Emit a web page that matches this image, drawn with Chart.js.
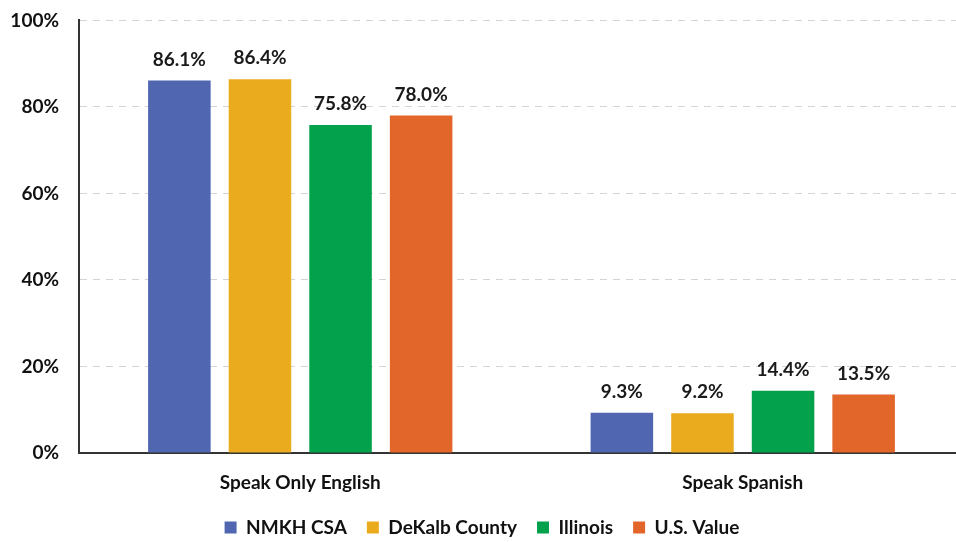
<!DOCTYPE html>
<html>
<head>
<meta charset="utf-8">
<script src="https://cdn.jsdelivr.net/npm/chart.js@4.4.1/dist/chart.umd.min.js"></script>
<style>
  html, body { margin: 0; padding: 0; background: #fff; overflow: hidden; }
  #wrap { position: absolute; left: 0; top: 0; width: 964px; height: 542px; }
</style>
</head>
<body>
<div id="wrap"><canvas id="myChart"></canvas></div>
<script>
const categories = ['Speak Only English', 'Speak Spanish']
const nmkh = [86.1, 9.3]
const dekalb = [86.4, 9.2]
const illinois = [75.8, 14.4]
const usValue = [78.0, 13.5]
const yTicks = [0, 20, 40, 60, 80, 100]

const FONT = 'Lato, Calibri, "Open Sans", sans-serif'

// value labels above each bar
const barLabels = {
  id: 'barLabels',
  afterDatasetsDraw: chart => {
    let ctx = chart.ctx
    ctx.save()
    ctx.font = 'bold 19px ' + FONT
    ctx.fillStyle = '#1a1a1a'
    ctx.textAlign = 'center'
    ctx.textBaseline = 'alphabetic'
    chart.data.datasets.forEach((ds, i) => {
      chart.getDatasetMeta(i).data.forEach((bar, j) => {
        ctx.fillText(ds.data[j].toFixed(1) + '%', bar.x, bar.y - 15)
      })
    })
    ctx.restore()
  }
}

new Chart('myChart', {
  type: 'bar',
  plugins: [barLabels],
  data: {
    labels: categories,
    datasets: [
      { label: 'NMKH CSA', data: nmkh, backgroundColor: '#5066B0' },
      { label: 'DeKalb County', data: dekalb, backgroundColor: '#EBAB1F' },
      { label: 'Illinois', data: illinois, backgroundColor: '#03A14B' },
      { label: 'U.S. Value', data: usValue, backgroundColor: '#E2662A' }
    ]
  },
  options: {
    responsive: true,
    maintainAspectRatio: false,
    animation: false,
    layout: { padding: { top: 0, left: 0, right: 0, bottom: -5 } },
    datasets: {
      bar: { categoryPercentage: 0.7285, barPercentage: 0.776 }
    },
    plugins: {
      legend: {
        position: 'bottom',
        labels: {
          boxWidth: 12,
          boxHeight: 12,
          padding: 20,
          color: '#111',
          font: { family: FONT, size: 19, weight: 'bold' }
        }
      },
      tooltip: { enabled: false }
    },
    scales: {
      x: {
        grid: { display: false },
        border: { display: true, color: '#333', width: 2 },
        ticks: {
          color: '#111',
          padding: 10,
          font: { family: FONT, size: 19, weight: 'bold' }
        },
        afterFit: scale => { scale.height = 45 }
      },
      y: {
        min: 0,
        max: 100,
        afterBuildTicks: scale => {
          scale.ticks = yTicks.map(v => ({ value: v }))
        },
        // invisible tick marks keep the labels clear of the axis
        grid: { color: '#d4d4d4', lineWidth: 1, drawTicks: true, tickLength: 11, tickColor: 'rgba(0,0,0,0)' },
        border: { display: true, color: '#333', width: 2, dash: [7, 6] },
        ticks: {
          color: '#111',
          padding: 9,
          font: { family: FONT, size: 19, weight: 'bold' },
          callback: v => v + '%'
        },
        afterFit: scale => { scale.width = 79 }
      }
    }
  }
})
</script>
</body>
</html>
